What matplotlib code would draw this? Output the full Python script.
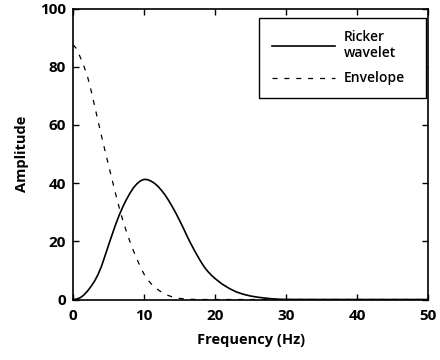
import numpy as np
import matplotlib
matplotlib.use("Agg")
import matplotlib.pyplot as plt

# =============================================================================
# Data
# =============================================================================

ricker_freq = [0, 0.5, 1, 1.5, 2, 2.5, 3, 3.5, 4, 4.5, 5, 5.5, 6, 6.5, 7, 7.5,
               8, 8.5, 9, 9.5, 10, 10.5, 11, 11.5, 12, 12.5, 13, 13.5, 14,
               14.5, 15, 15.5, 16, 16.5, 17, 17.5, 18, 18.5, 19, 19.5, 20,
               21, 22, 23, 24, 25, 26, 27, 28, 29, 30, 35, 40, 45, 50]

ricker = [0.0, 0.15, 0.6, 1.5, 2.8, 4.4, 6.2, 8.5, 11.4, 15.0, 18.7, 22.3,
          25.8, 29.0, 31.8, 34.3, 36.5, 38.4, 39.8, 40.8, 41.3, 41.2, 40.7,
          39.9, 38.8, 37.4, 35.8, 33.9, 31.8, 29.6, 27.2, 24.7, 22.1, 19.6,
          17.3, 15.1, 13.0, 11.1, 9.6, 8.3, 7.2, 5.3, 3.8, 2.6, 1.8, 1.2,
          0.8, 0.5, 0.25, 0.1, 0.03, 0.0, 0.0, 0.0, 0.0]

env_freq = [0, 0.5, 1, 1.5, 2, 2.5, 3, 3.5, 4, 4.5, 5, 5.5, 6, 6.5, 7, 7.5,
            8, 8.5, 9, 9.5, 10, 10.5, 11, 11.5, 12, 12.5, 13, 13.5, 14, 15,
            16, 17, 18, 20, 30, 40, 50]

envelope = [87.6, 86.2, 83.4, 80.4, 77.0, 72.3, 67.0, 61.6, 56.3, 51.2,
            46.2, 41.2, 36.3, 31.6, 27.3, 23.5, 20.0, 16.8, 13.9, 11.1,
            8.7, 6.9, 5.4, 4.3, 3.3, 2.5, 1.8, 1.3, 0.9, 0.4,
            0.15, 0.05, 0.0, 0.0, 0.0, 0.0, 0.0]

xticks = [0, 10, 20, 30, 40, 50]
yticks = [0, 20, 40, 60, 80, 100]

# =============================================================================
# Plot
# =============================================================================

plt.rcParams['font.family'] = ['Open Sans', 'DejaVu Sans']

fig = plt.figure(figsize=(4.4, 3.6), dpi=100)
ax = fig.add_axes([0.166, 0.168, 0.807, 0.808])

ax.plot(ricker_freq, ricker, color='black', linewidth=1.2,
        label="Ricker\nwavelet")
ax.plot(env_freq, envelope, color='black', linewidth=0.9,
        linestyle=(0, (4, 5.5)), label="Envelope")

ax.set_xlim(0, 50)
ax.set_ylim(0, 100)
ax.set_xticks(xticks)
ax.set_yticks(yticks)
ax.tick_params(direction='in', length=4, width=1, top=True, right=True,
               labelsize=11)
ax.tick_params(axis='x', pad=7)
ax.tick_params(axis='y', pad=5)
for lbl in ax.get_xticklabels() + ax.get_yticklabels():
    lbl.set_fontweight('bold')
for sp in ax.spines.values():
    sp.set_linewidth(1.2)

ax.set_xlabel("Frequency (Hz)", fontsize=10.5, fontweight='bold', labelpad=7)
ax.set_ylabel("Amplitude", fontsize=10.5, fontweight='bold', labelpad=8)

leg = ax.legend(loc='upper left', bbox_to_anchor=(0.524, 0.0, 0.47, 0.969),
                mode='expand', borderaxespad=0, handlelength=4.6,
                fancybox=False, framealpha=1, edgecolor='black',
                borderpad=0.9, labelspacing=0.8, handletextpad=0.6,
                prop={'weight': 'semibold', 'size': 10})
leg.get_frame().set_linewidth(1.0)

fig.savefig("out.png", dpi=100)
